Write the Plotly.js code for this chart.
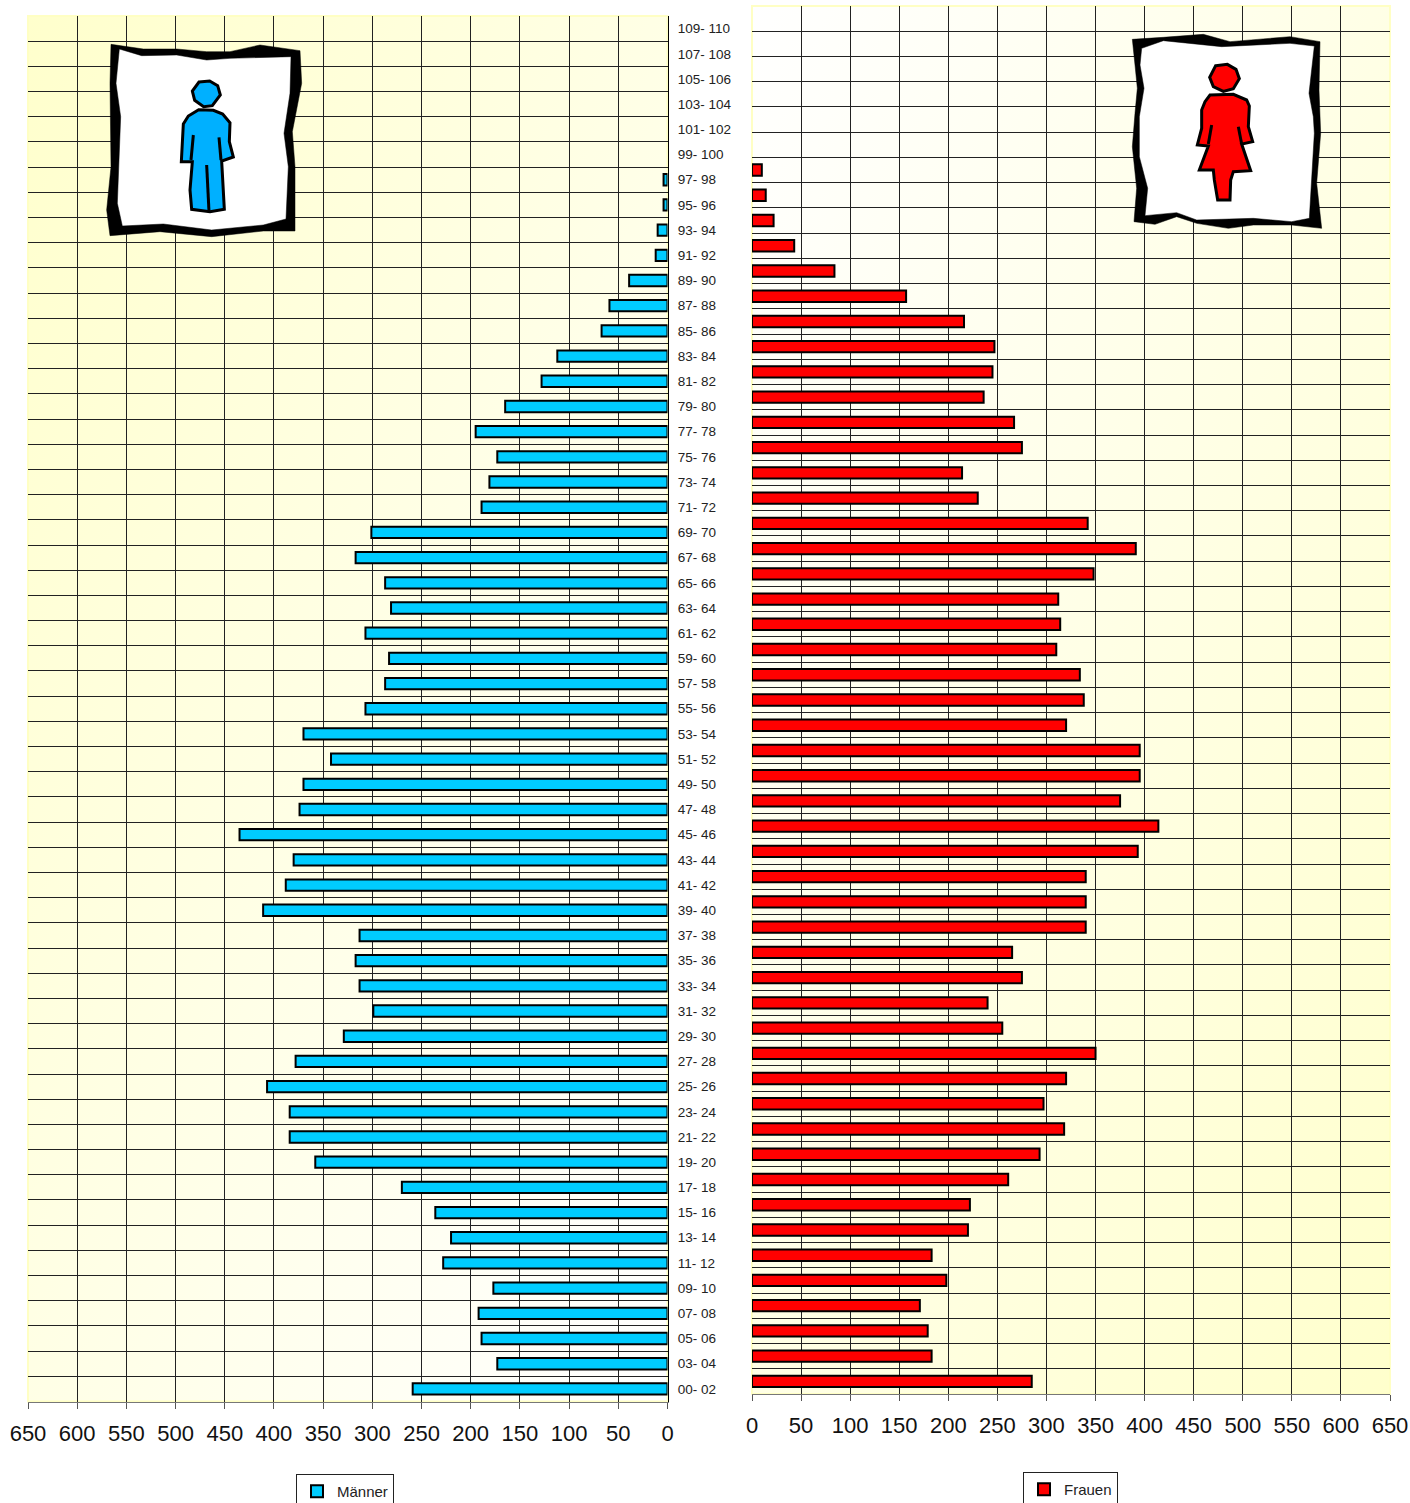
<!DOCTYPE html>
<html><head><meta charset="utf-8">
<script src="https://cdn.plot.ly/plotly-3.0.1.min.js"></script>
<style>html,body{margin:0;padding:0;background:#fff}#c{width:1410px;height:1503px}</style>
</head><body><div id="c"></div>
<script>
const ageGroups = ["00- 02","03- 04","05- 06","07- 08","09- 10","11- 12","13- 14","15- 16","17- 18","19- 20","21- 22","23- 24","25- 26","27- 28","29- 30","31- 32","33- 34","35- 36","37- 38","39- 40","41- 42","43- 44","45- 46","47- 48","49- 50","51- 52","53- 54","55- 56","57- 58","59- 60","61- 62","63- 64","65- 66","67- 68","69- 70","71- 72","73- 74","75- 76","77- 78","79- 80","81- 82","83- 84","85- 86","87- 88","89- 90","91- 92","93- 94","95- 96","97- 98","99- 100","101- 102","103- 104","105- 106","107- 108","109- 110"];
const maenner = [259,173,189,192,177,228,220,236,270,358,384,384,407,378,329,299,313,317,313,411,388,380,435,374,370,342,370,307,287,283,307,281,287,317,301,189,181,173,195,165,128,112,67,59,39,12,10,4,4,null,null,null,null,null,null];
const frauen = [285,183,179,171,198,183,220,222,261,293,318,297,320,350,255,240,275,265,340,340,340,393,414,375,395,395,320,338,334,310,314,312,348,391,342,230,214,275,267,236,245,247,216,157,84,43,22,14,10,null,null,null,null,null,null];
const xTicks = [0,50,100,150,200,250,300,350,400,450,500,550,600,650];

const W = 1410, H = 1503;
const px = x => x / W, py = y => 1 - y / H;
const L = {x0:28, x1:667.5, y0:16, y1:1401.5};
const R = {x0:752, x1:1390, y0:6, y1:1394};

function gradient(a, b) {
  const svg = `<svg xmlns="http://www.w3.org/2000/svg" width="100" height="100" preserveAspectRatio="none" viewBox="0 0 100 100"><defs><linearGradient id="g" x1="0" y1="0" x2="1" y2="1"><stop offset="0" stop-color="${a}"/><stop offset="1" stop-color="${b}"/></linearGradient></defs><rect width="100" height="100" fill="url(#g)"/></svg>`;
  return "data:image/svg+xml;base64," + btoa(svg);
}
function bgImage(box, a, b) {
  return {source: gradient(a,b), xref:"paper", yref:"paper", x:px(box.x0), y:py(box.y0),
    sizex:px(box.x1-box.x0), sizey:(box.y1-box.y0)/H, sizing:"stretch", xanchor:"left", yanchor:"top", layer:"below"};
}
function iconPath(pts, ox, oy, closed) {
  const d = pts.map((p,i)=>(i?"L":"M")+px(ox+p[0]/3)+","+py(oy+p[1]/3)).join(" ");
  return d + (closed===false?"":" Z");
}
function iconShape(pts, ox, oy, fill, lw, closed) {
  const s = {type:"path", xref:"paper", yref:"paper", path:iconPath(pts,ox,oy,closed), layer:"above",
    line:{color:"#000", width:lw}};
  s.fillcolor = fill || "rgba(0,0,0,0)";
  return s;
}
function borderRect(b) {
  return {type:"rect", xref:"paper", yref:"paper", x0:px(b.x0), x1:px(b.x1), y0:py(b.y0), y1:py(b.y1), layer:"below",
    line:{color:"#FFFFC4", width:2}, fillcolor:"rgba(0,0,0,0)"};
}

/* man icon */
const mOuter=[[333,133],[430,147],[530,147],[620,155],[690,155],[780,135],[900,152],[905,250],[877,395],[885,500],[885,693],[790,693],[635,710],[480,695],[330,707],[320,630],[333,500],[330,250]];
const mInner=[[358,147],[425,167],[530,165],[620,180],[690,175],[873,170],[870,280],[852,400],[865,500],[858,657],[790,675],[635,690],[490,672],[367,678],[352,610],[362,350],[348,250]];
const mHead=[[597,246],[629,243],[653,257],[661,285],[637,317],[611,320],[584,301],[577,273]];
const mBody=[[596,329],[640,331],[668,342],[690,368],[688,425],[700,471],[665,483],[673,628],[630,635],[575,628],[570,570],[577,485],[544,485],[550,372],[565,348]];
const mLeg=[[620,495],[627,635]], mArmL=[[580,405],[573,480]], mArmR=[[657,412],[663,480]];
/* woman icon */
const fOuter=[[37,118],[130,112],[250,103],[330,125],[510,110],[600,125],[597,270],[602,400],[590,550],[605,685],[515,675],[400,675],[325,685],[230,670],[170,650],[105,673],[42,665],[50,565],[37,440],[45,340],[52,265],[45,195]];
const fInner=[[65,145],[130,122],[305,140],[510,130],[583,138],[567,280],[580,350],[583,400],[568,655],[515,665],[400,655],[230,660],[170,638],[75,647],[83,565],[58,470],[58,350],[72,265],[60,195]];
const fHead=[[287,197],[322,193],[348,208],[358,236],[340,266],[310,274],[280,260],[269,232]];
const fBody=[[270,285],[340,283],[380,300],[388,318],[385,380],[398,425],[365,432],[392,512],[340,515],[332,540],[330,600],[293,600],[283,540],[280,510],[238,510],[265,438],[232,435],[245,385],[245,330],[255,305]];
const fArmL=[[275,375],[265,432]], fArmR=[[355,380],[365,432]];

const BLUE="#00CCFF", ICONBLUE="#00B0FF", RED="#FF0000";
const shapes=[
  borderRect(L), borderRect(R),
  iconShape(mOuter,0,0,"#000",0.5), iconShape(mInner,0,0,"#fff",0.5),
  iconShape(mHead,0,0,ICONBLUE,3), iconShape(mBody,0,0,ICONBLUE,3),
  iconShape(mLeg,0,0,null,3,false), iconShape(mArmL,0,0,null,3,false), iconShape(mArmR,0,0,null,3,false),
  iconShape(fOuter,1120,0,"#000",0.5), iconShape(fInner,1120,0,"#fff",0.5),
  iconShape(fHead,1120,0,RED,3), iconShape(fBody,1120,0,RED,3),
  iconShape(fArmL,1120,0,null,3,false), iconShape(fArmR,1120,0,null,3,false)
];

const FONT="Liberation Sans, Arial, sans-serif";
const xAxisBase={tickmode:"array", tickvals:xTicks, ticks:"outside", ticklen:6, tickwidth:1, tickcolor:"#555",
  showline:true, linecolor:"#777", linewidth:1, showgrid:true, gridcolor:"#222", gridwidth:1, zeroline:false,
  tickfont:{family:FONT,size:22,color:"#111"}, ticklabelstandoff:6, fixedrange:true};
const yAxisBase={type:"category", categoryorder:"array", categoryarray:ageGroups, range:[-0.5,54.5], tickson:"boundaries",
  ticks:"", showgrid:true, gridcolor:"#222", gridwidth:1, zeroline:false, fixedrange:true};

const traces=[
 {type:"bar", orientation:"h", name:"Männer", x:maenner, y:ageGroups, xaxis:"x", yaxis:"y",
  marker:{color:BLUE,line:{color:"#000",width:2}}, cliponaxis:false, hoverinfo:"x+y"},
 {type:"bar", orientation:"h", name:"Frauen", x:frauen, y:ageGroups, xaxis:"x2", yaxis:"y2", legend:"legend2",
  marker:{color:RED,line:{color:"#000",width:2}}, cliponaxis:false, hoverinfo:"x+y"}
];
const legendBase={xanchor:"left", yanchor:"top", bgcolor:"#fff", bordercolor:"#222", borderwidth:1,
  font:{family:FONT,size:15,color:"#222"}};
const layout={
  width:W, height:H, margin:{l:0,r:0,t:0,b:0,autoexpand:false}, paper_bgcolor:"#fff", plot_bgcolor:"rgba(0,0,0,0)",
  bargap:0.55, showlegend:true, font:{family:FONT},
  xaxis:Object.assign({},xAxisBase,{domain:[px(L.x0),px(L.x1)], range:[650,0], anchor:"y"}),
  yaxis:Object.assign({},yAxisBase,{domain:[py(L.y1),py(L.y0)], anchor:"x", side:"right", showline:true, linecolor:"#000", linewidth:1.5,
    ticklabelstandoff:6, tickfont:{family:FONT,size:13.5,color:"#222"}}),
  xaxis2:Object.assign({},xAxisBase,{domain:[px(R.x0),px(R.x1)], range:[0,650], anchor:"y2"}),
  yaxis2:Object.assign({},yAxisBase,{domain:[py(R.y1),py(R.y0)], anchor:"x2", showticklabels:false}),
  legend:Object.assign({},legendBase,{x:px(296),y:py(1474)}),
  legend2:Object.assign({},legendBase,{x:px(1023),y:py(1472)}),
  images:[bgImage(L,"#FFFFCC","#FFFFFF"), bgImage(R,"#FFFFFF","#FFFFCC")],
  shapes:shapes
};
Plotly.newPlot("c",traces,layout,{displayModeBar:false,staticPlot:true});
</script></body></html>
